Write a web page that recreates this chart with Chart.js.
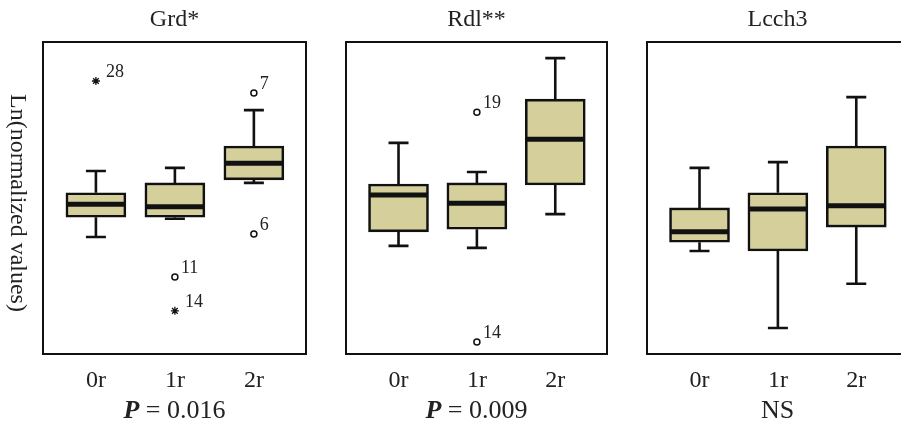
<!DOCTYPE html>
<html lang="en">
<head>
  <meta charset="UTF-8" />
  <title>Ln(normalized values) box plots</title>
  <script src="https://cdn.jsdelivr.net/npm/chart.js"></script>
  <style>
    body {
      margin: 0;
      background: #fff;
      width: 901px;
      height: 425px;
      overflow: hidden;
      position: relative;
    }
    canvas { position: absolute; top: 0; }
    #c1 { left: 0; }
    #c2 { left: 320px; }
    #c3 { left: 620px; }
  </style>
</head>
<body>
  <canvas id="c1" width="320" height="425"></canvas>
  <canvas id="c2" width="300" height="425"></canvas>
  <canvas id="c3" width="300" height="425"></canvas>

  <script>
    const categories = ['0r', '1r', '2r'];
    const panelTitles = ['Grd*', 'Rdl**', 'Lcch3'];
    const pValues = ['0.016', '0.009', null];   // null -> NS

    // Grd
    const grdMin    = [-0.75, -0.40, 0.29];
    const grdQ1     = [-0.37, -0.37, 0.35];
    const grdMedian = [-0.12, -0.17, 0.67];
    const grdQ3     = [0.10, 0.29, 1.00];
    const grdMax    = [0.52, 0.58, 1.69];
    const grdOutGroup = [0, 1, 1, 2, 2];
    const grdOutValue = [2.25, -1.52, -2.17, 2.02, -0.69];
    const grdOutCase  = ['28', '11', '14', '7', '6'];
    const grdOutExtreme = [true, false, true, false, false];

    // Rdl
    const rdlMin    = [-0.92, -0.96, -0.31];
    const rdlQ1     = [-0.65, -0.60, 0.25];
    const rdlMedian = [0.06, -0.10, 1.13];
    const rdlQ3     = [0.27, 0.29, 1.90];
    const rdlMax    = [1.06, 0.50, 2.69];
    const rdlOutGroup = [1, 1];
    const rdlOutValue = [1.65, -2.77];
    const rdlOutCase  = ['19', '14'];
    const rdlOutExtreme = [false, false];

    // Lcch3
    const lcchMin    = [-1.02, -2.50, -1.65];
    const lcchQ1     = [-0.85, -1.02, -0.56];
    const lcchMedian = [-0.65, -0.21, -0.15];
    const lcchQ3     = [-0.19, 0.10, 1.00];
    const lcchMax    = [0.58, 0.69, 1.94];
    const lcchOutGroup = [];
    const lcchOutValue = [];
    const lcchOutCase  = [];
    const lcchOutExtreme = [];

    const panels = [
      { min: grdMin, q1: grdQ1, med: grdMedian, q3: grdQ3, max: grdMax,
        og: grdOutGroup, ov: grdOutValue, oc: grdOutCase, oe: grdOutExtreme },
      { min: rdlMin, q1: rdlQ1, med: rdlMedian, q3: rdlQ3, max: rdlMax,
        og: rdlOutGroup, ov: rdlOutValue, oc: rdlOutCase, oe: rdlOutExtreme },
      { min: lcchMin, q1: lcchQ1, med: lcchMedian, q3: lcchQ3, max: lcchMax,
        og: lcchOutGroup, ov: lcchOutValue, oc: lcchOutCase, oe: lcchOutExtreme }
    ];

    const serif = "'Liberation Serif', 'DejaVu Serif', serif";
    const ink = '#111';
    const boxFill = '#d5d09b';
    const boxWidth = 60;

    const boxPlot = {
      id: 'boxPlot',
      beforeDatasetsDraw(chart, args, opts) {
        const { ctx, scales: { x, y } } = chart;
        const p = opts.panel;
        ctx.save();
        ctx.strokeStyle = ink;
        ctx.lineWidth = 2.6;
        p.min.forEach((lo, i) => {
          const cx = x.getPixelForValue(i);
          const yMax = y.getPixelForValue(p.max[i]);
          const yMin = y.getPixelForValue(lo);
          ctx.beginPath();
          ctx.moveTo(cx, yMax); ctx.lineTo(cx, y.getPixelForValue(p.q3[i]));
          ctx.moveTo(cx, y.getPixelForValue(p.q1[i])); ctx.lineTo(cx, yMin);
          ctx.moveTo(cx - 10, yMax); ctx.lineTo(cx + 10, yMax);
          ctx.moveTo(cx - 10, yMin); ctx.lineTo(cx + 10, yMin);
          ctx.stroke();
        });
        ctx.restore();
      },
      afterDatasetsDraw(chart, args, opts) {
        const { ctx, scales: { x, y } } = chart;
        const p = opts.panel;
        ctx.save();
        // medians
        ctx.strokeStyle = ink;
        ctx.lineWidth = 5;
        p.med.forEach((m, i) => {
          const cx = x.getPixelForValue(i);
          const ym = y.getPixelForValue(m);
          ctx.beginPath();
          ctx.moveTo(cx - boxWidth / 2 + 1, ym);
          ctx.lineTo(cx + boxWidth / 2 - 1, ym);
          ctx.stroke();
        });
        // outlier case numbers
        ctx.fillStyle = '#222';
        ctx.font = '18px ' + serif;
        ctx.textAlign = 'left';
        ctx.textBaseline = 'middle';
        chart.getDatasetMeta(1).data.forEach((pt, i) => {
          ctx.fillText(p.oc[i], pt.x + (p.oe[i] ? 10 : 6), pt.y - 9);
        });
        ctx.restore();
      },
      afterDraw(chart, args, opts) {
        const { ctx, chartArea: a } = chart;
        const cx = (a.left + a.right) / 2;
        ctx.save();
        ctx.strokeStyle = ink;
        ctx.lineWidth = 2;
        ctx.strokeRect(a.left, a.top, a.right - a.left, a.bottom - a.top);

        ctx.fillStyle = '#222';
        ctx.textBaseline = 'middle';
        ctx.textAlign = 'center';
        ctx.font = '24px ' + serif;
        ctx.fillText(opts.title, cx, 20);

        // P value line
        const yP = 411;
        if (opts.p === null) {
          ctx.font = '26px ' + serif;
          ctx.fillText('NS', cx, yP);
        } else {
          const boldP = 'italic bold 26px ' + serif;
          const rest = ' = ' + opts.p;
          ctx.font = boldP;
          const w1 = ctx.measureText('P').width;
          ctx.font = '26px ' + serif;
          const w2 = ctx.measureText(rest).width;
          const x0 = cx - (w1 + w2) / 2;
          ctx.textAlign = 'left';
          ctx.font = boldP;
          ctx.fillText('P', x0, yP);
          ctx.font = '26px ' + serif;
          ctx.fillText(rest, x0 + w1, yP);
        }

        if (opts.yTitle) {
          ctx.translate(17, 203);
          ctx.rotate(Math.PI / 2);
          ctx.textAlign = 'center';
          ctx.font = '24px ' + serif;
          ctx.fillText(opts.yTitle, 0, 0);
        }
        ctx.restore();
      }
    };

    const pads = [
      { left: 43, right: 14 },
      { left: 26, right: 13 },
      { left: 27, right: 12 }
    ];

    panels.forEach((p, k) => {
      new Chart(document.getElementById('c' + (k + 1)), {
        type: 'bar',
        data: {
          datasets: [
            {
              type: 'bar',
              data: categories.map((c, i) => ({ x: i, y: [p.q1[i], p.q3[i]] })),
              backgroundColor: boxFill,
              borderColor: ink,
              borderWidth: 2.6,
              borderSkipped: false,
              barThickness: boxWidth,
              order: 2
            },
            {
              type: 'scatter',
              data: p.ov.map((v, i) => ({ x: p.og[i], y: v })),
              pointStyle: p.oe.map(e => e ? 'star' : 'circle'),
              pointRadius: p.oe.map(e => e ? 4 : 3),
              backgroundColor: '#fff',
              borderColor: ink,
              borderWidth: p.oe.map(e => e ? 1.3 : 1.5),
              order: 1
            }
          ]
        },
        options: {
          responsive: false,
          animation: false,
          devicePixelRatio: 1,
          layout: { padding: { top: 42, bottom: 0, left: pads[k].left, right: pads[k].right } },
          plugins: {
            legend: { display: false },
            tooltip: { enabled: false },
            boxPlot: {
              panel: p,
              title: panelTitles[k],
              p: pValues[k],
              yTitle: k === 0 ? 'Ln(normalized values)' : null
            }
          },
          scales: {
            x: {
              type: 'linear',
              offset: false,
              min: -0.67,
              max: 2.66,
              grid: { display: false, drawTicks: false, tickLength: 0, offset: false },
              border: { display: false },
              afterBuildTicks: s => { s.ticks = categories.map((c, i) => ({ value: i })); },
              afterFit: s => { s.height = 71; },
              ticks: {
                padding: 12,
                color: '#222',
                font: { family: serif, size: 24 },
                callback: v => categories[v]
              }
            },
            y: {
              display: false,
              min: -3,
              max: 3
            }
          }
        },
        plugins: [boxPlot]
      });
    });
  </script>
</body>
</html>
